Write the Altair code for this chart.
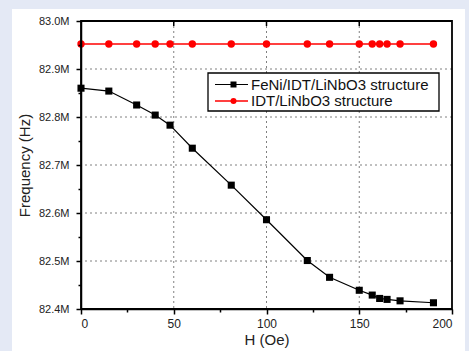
import altair as alt
import pandas as pd

# Magnetic field H (Oe)
H = [0, 15, 30, 40, 48, 60, 81, 100, 122, 134, 150, 157, 161, 165, 172, 190]
# Resonance frequency, in MHz
FENI_FREQ = [82.860, 82.854, 82.825, 82.804, 82.783, 82.735, 82.658, 82.586,
             82.501, 82.466, 82.439, 82.429, 82.422, 82.420, 82.417, 82.413]
IDT_FREQ = [82.952, 82.952, 82.952, 82.952, 82.952, 82.952, 82.952, 82.952,
            82.952, 82.952, 82.952, 82.952, 82.952, 82.952, 82.952, 82.952]
SERIES = ["FeNi/IDT/LiNbO3 structure", "IDT/LiNbO3 structure"]
COLORS = ["#000000", "#ff0000"]
SHAPES = ["square", "circle"]

X_TICKS = [0, 25, 50, 75, 100, 125, 150, 175, 200]
Y_TICKS = [82.4, 82.45, 82.5, 82.55, 82.6, 82.65, 82.7, 82.75, 82.8, 82.85, 82.9, 82.95, 83.0]
X_GRID = [50, 100, 150]
Y_GRID = [82.5, 82.6, 82.7, 82.8, 82.9]

W, H_PX = 371, 288
FONT = "Liberation Sans"

df = pd.DataFrame({
    "H": H + H,
    "f": FENI_FREQ + IDT_FREQ,
    "series": [SERIES[0]] * len(H) + [SERIES[1]] * len(H),
})

x_scale = alt.Scale(domain=[0, 200], nice=False)
y_scale = alt.Scale(domain=[82.4, 83.0], nice=False, zero=False)

Y_MAJOR = "abs(round(datum.value * 10) - datum.value * 10) < 0.01"

x_axis = alt.Axis(
    values=X_TICKS, grid=False, zindex=1,
    labelExpr="datum.value % 50 == 0 ? datum.label : ''",
    tickSize={"condition": {"test": "datum.value % 50 == 0", "value": 5}, "value": 3},
    tickColor="black", tickWidth=1.5, domainColor="black", domainWidth=1.5,
    labelFont=FONT, labelFontSize=12, labelColor="#222", labelPadding=4,
    title="H (Oe)", titleFont=FONT, titleFontSize=15, titleFontWeight="normal",
    titleColor="#222", titlePadding=3,
)
y_axis = alt.Axis(
    values=Y_TICKS, grid=False, zindex=1,
    labelExpr=Y_MAJOR + " ? format(datum.value, '.1f') + 'M' : ''",
    tickSize={"condition": {"test": Y_MAJOR, "value": 5}, "value": 3},
    tickColor="black", tickWidth=1.5, domainColor="black", domainWidth=1.5,
    labelFont=FONT, labelFontSize=11, labelColor="#222", labelPadding=7,
    title="Frequency (Hz)", titleFont=FONT, titleFontSize=15, titleFontWeight="normal",
    titleColor="#222", titlePadding=6,
)

X = alt.X("H:Q", scale=x_scale, axis=x_axis)
Y = alt.Y("f:Q", scale=y_scale, axis=y_axis)

one = alt.Data(values=[{}])

# White panel behind the plot
panel = alt.Chart(one).mark_rect(fill="white").encode(
    x=alt.value(-69), x2=alt.value(384), y=alt.value(-12), y2=alt.value(340)
)

grid_x = alt.Chart(pd.DataFrame({"H": X_GRID})).mark_rule(
    color="#808080", strokeDash=[2, 3], strokeWidth=1
).encode(x=X)
grid_y = alt.Chart(pd.DataFrame({"f": Y_GRID})).mark_rule(
    color="#808080", strokeDash=[2, 3], strokeWidth=1
).encode(y=Y)

# Inward ticks along the top edge
top_ticks = alt.Chart(pd.DataFrame({"H": X_GRID})).mark_rule(
    color="black", strokeWidth=1.5
).encode(x=X, y=alt.value(0), y2=alt.value(5))

color = alt.Color("series:N", scale=alt.Scale(domain=SERIES, range=COLORS), legend=None)

lines = alt.Chart(df).mark_line().encode(
    x=X, y=Y, color=color, detail="series:N",
    strokeWidth=alt.StrokeWidth("series:N", scale=alt.Scale(domain=SERIES, range=[1.2, 1.5]), legend=None),
)
points = alt.Chart(df).mark_point(filled=True, opacity=1).encode(
    x=X, y=Y, color=color,
    shape=alt.Shape("series:N", scale=alt.Scale(domain=SERIES, range=SHAPES), legend=None),
    size=alt.Size("series:N", scale=alt.Scale(domain=SERIES, range=[50, 55]), legend=None),
)

# Frame around the plot area
frame = alt.Chart(one).mark_rect(fill=None, stroke="black", strokeWidth=1.8).encode(
    x=alt.value(0), x2=alt.value(W), y=alt.value(0), y2=alt.value(H_PX)
)

# Legend box with line-and-marker keys
leg_box = alt.Chart(one).mark_rect(fill="white", stroke="black", strokeWidth=1.3).encode(
    x=alt.value(127), x2=alt.value(358), y=alt.value(52), y2=alt.value(90)
)
legend_layers = []
for name, col, shp, sz, lw, ry in zip(SERIES, COLORS, SHAPES, [36, 36], [1.2, 1.5], [63.5, 80]):
    legend_layers.append(alt.Chart(one).mark_rule(color=col, strokeWidth=lw).encode(
        x=alt.value(134), x2=alt.value(167), y=alt.value(ry)))
    legend_layers.append(alt.Chart(one).mark_point(
        filled=True, opacity=1, color=col, shape=shp, size=sz
    ).encode(x=alt.value(152.5), y=alt.value(ry)))
    legend_layers.append(alt.Chart(one).mark_text(
        align="left", baseline="middle", font=FONT, fontSize=15, color="#111", text=name
    ).encode(x=alt.value(170), y=alt.value(ry)))

chart = alt.layer(
    panel, grid_x, grid_y, top_ticks, lines, points, frame, leg_box, *legend_layers,
).properties(
    width=W, height=H_PX,
    background="#e4e9f5",
    padding={"left": 81, "top": 21, "right": 17, "bottom": 42},
    autosize=alt.AutoSizeParams(type="none"),
).configure_view(stroke=None)

chart.save("out.html", embed_options={"renderer": "svg", "actions": False})
